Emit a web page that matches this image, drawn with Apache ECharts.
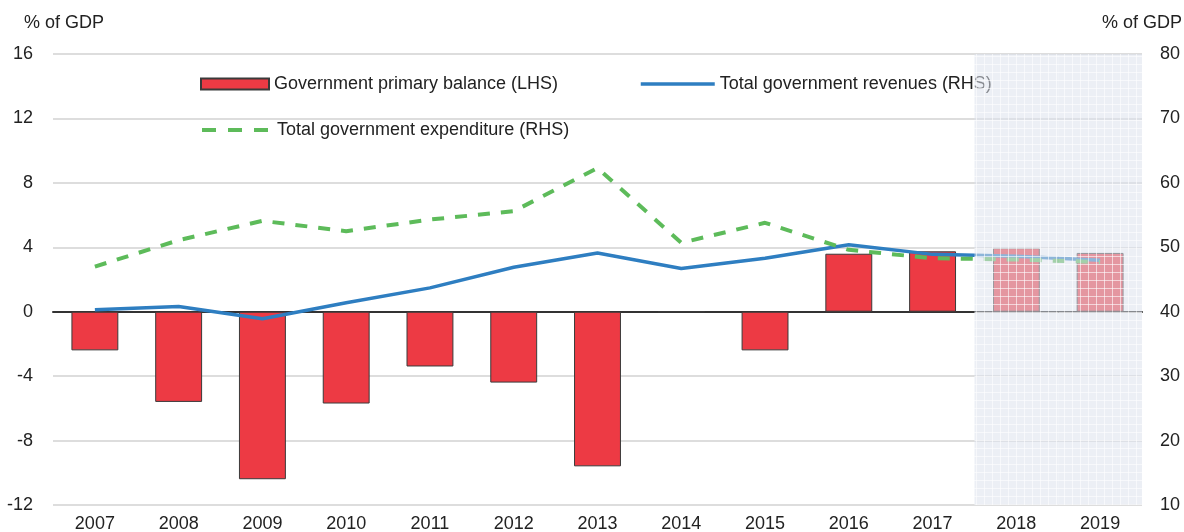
<!DOCTYPE html>
<html>
<head>
<meta charset="utf-8">
<script src="https://cdn.jsdelivr.net/npm/echarts@6/dist/echarts.min.js"></script>
<style>
  html, body { margin: 0; padding: 0; background: #fff; }
  #chart { width: 1184px; height: 532px; }
</style>
</head>
<body>
<div id="chart"></div>
<script>
var years = ['2007', '2008', '2009', '2010', '2011', '2012', '2013', '2014', '2015', '2016', '2017', '2018', '2019'];
var primaryBalance = [-2.4, -5.6, -10.4, -5.7, -3.4, -4.4, -9.6, 0, -2.4, 3.6, 3.75, 3.95, 3.65];
var revenues = [40.3, 40.8, 38.9, 41.4, 43.7, 46.9, 49.1, 46.7, 48.3, 50.4, 48.9, 48.6, 48.0];
var expenditure = [47.0, 51.1, 54.1, 52.5, 54.3, 55.6, 62.3, 50.7, 53.8, 49.6, 48.3, 48.1, 47.7];
// projection years shaded on top
var projTop = [null, null, null, null, null, null, null, null, null, null, null, 16, 16];
var projBottom = [null, null, null, null, null, null, null, null, null, null, null, -12, -12];

var fontFam = 'Liberation Sans, Arial, sans-serif';
var txt = '#222';

// grid pattern for the projection area
var pat = document.createElement('canvas');
pat.width = 8;
pat.height = 8;
var pc = pat.getContext('2d');
pc.fillStyle = 'rgba(220,225,236,0.55)';
pc.fillRect(0, 0, 8, 8);
pc.fillStyle = 'rgba(255,255,255,0.6)';
pc.fillRect(0, 0, 8, 1);
pc.fillRect(0, 0, 1, 8);

var chart = echarts.init(document.getElementById('chart'));

var legendText = { fontSize: 18, color: txt, fontFamily: fontFam };

var option = {
  animation: false,
  backgroundColor: '#ffffff',
  grid: { left: 53, right: 42, top: 54, bottom: 27, outerBoundsMode: 'none', containLabel: false },
  legend: [
    {
      data: [{ name: 'Government primary balance (LHS)', icon: 'rect' }],
      left: 195, top: 70, itemWidth: 68, itemHeight: 11, itemGap: 8,
      textStyle: legendText
    },
    {
      data: ['Total government revenues (RHS)'],
      left: 634, top: 70, itemWidth: 74, itemHeight: 11,
      itemStyle: { opacity: 0 },
      lineStyle: { width: 3.5, color: '#2E7EC1' },
      textStyle: legendText
    },
    {
      data: ['Total government expenditure (RHS)'],
      left: 195, top: 116, itemWidth: 70, itemHeight: 11,
      itemStyle: { opacity: 0 },
      lineStyle: { width: 4, color: '#5DBB5A', type: [14, 12] },
      textStyle: legendText
    }
  ],
  xAxis: [
    {
      type: 'category',
      data: years,
      axisLine: { show: false },
      axisTick: { show: false },
      axisLabel: { fontSize: 18, color: txt, fontFamily: fontFam, margin: 10 }
    },
    {
      type: 'category',
      data: years,
      position: 'bottom',
      axisLine: { onZero: true, onZeroAxisIndex: 0, lineStyle: { color: '#333', width: 2 } },
      axisTick: { inside: true, length: 6, lineStyle: { color: '#333', width: 1.5 } },
      axisLabel: { show: false }
    }
  ],
  yAxis: [
    {
      type: 'value',
      min: -12, max: 16, interval: 4,
      name: '% of GDP',
      nameLocation: 'end',
      nameGap: 22,
      nameTextStyle: { fontSize: 18, color: txt, fontFamily: fontFam, padding: [0, 0, 0, 22] },
      axisLine: { show: false },
      axisTick: { show: false },
      axisLabel: { fontSize: 18, color: txt, fontFamily: fontFam, margin: 20 },
      splitLine: { lineStyle: { color: '#d2d2d2', width: 1.5 } }
    },
    {
      type: 'value',
      min: 10, max: 80, interval: 10,
      name: '% of GDP',
      nameLocation: 'end',
      nameGap: 22,
      nameTextStyle: { fontSize: 18, color: txt, fontFamily: fontFam },
      axisLine: { show: false },
      axisTick: { show: false },
      axisLabel: { fontSize: 18, color: txt, fontFamily: fontFam, margin: 18 },
      splitLine: { show: false }
    }
  ],
  series: [
    {
      name: 'Government primary balance (LHS)',
      type: 'bar',
      xAxisIndex: 0,
      yAxisIndex: 0,
      barWidth: '56%',
      data: primaryBalance,
      itemStyle: { color: '#ED3A44', borderColor: '#3a3a3a', borderWidth: 1 },
      z: 2
    },
    {
      name: 'Total government revenues (RHS)',
      type: 'line',
      xAxisIndex: 0,
      yAxisIndex: 1,
      data: revenues,
      symbol: 'none',
      itemStyle: { color: '#2E7EC1' },
      lineStyle: { color: '#2E7EC1', width: 3.5 },
      z: 3
    },
    {
      name: 'Total government expenditure (RHS)',
      type: 'line',
      xAxisIndex: 0,
      yAxisIndex: 1,
      data: expenditure,
      symbol: 'none',
      itemStyle: { color: '#5DBB5A' },
      lineStyle: { color: '#5DBB5A', width: 4, type: [12, 11] },
      z: 3
    },
    {
      name: 'proj top',
      type: 'bar',
      xAxisIndex: 1,
      yAxisIndex: 0,
      stack: 'proj',
      barWidth: '100%',
      data: projTop,
      itemStyle: { color: { image: pat, repeat: 'repeat' } },
      silent: true,
      z: 6
    },
    {
      name: 'proj bottom',
      type: 'bar',
      xAxisIndex: 1,
      yAxisIndex: 0,
      stack: 'proj',
      barWidth: '100%',
      data: projBottom,
      itemStyle: { color: { image: pat, repeat: 'repeat' } },
      silent: true,
      z: 6
    }
  ]
};

chart.setOption(option);
</script>
</body>
</html>
